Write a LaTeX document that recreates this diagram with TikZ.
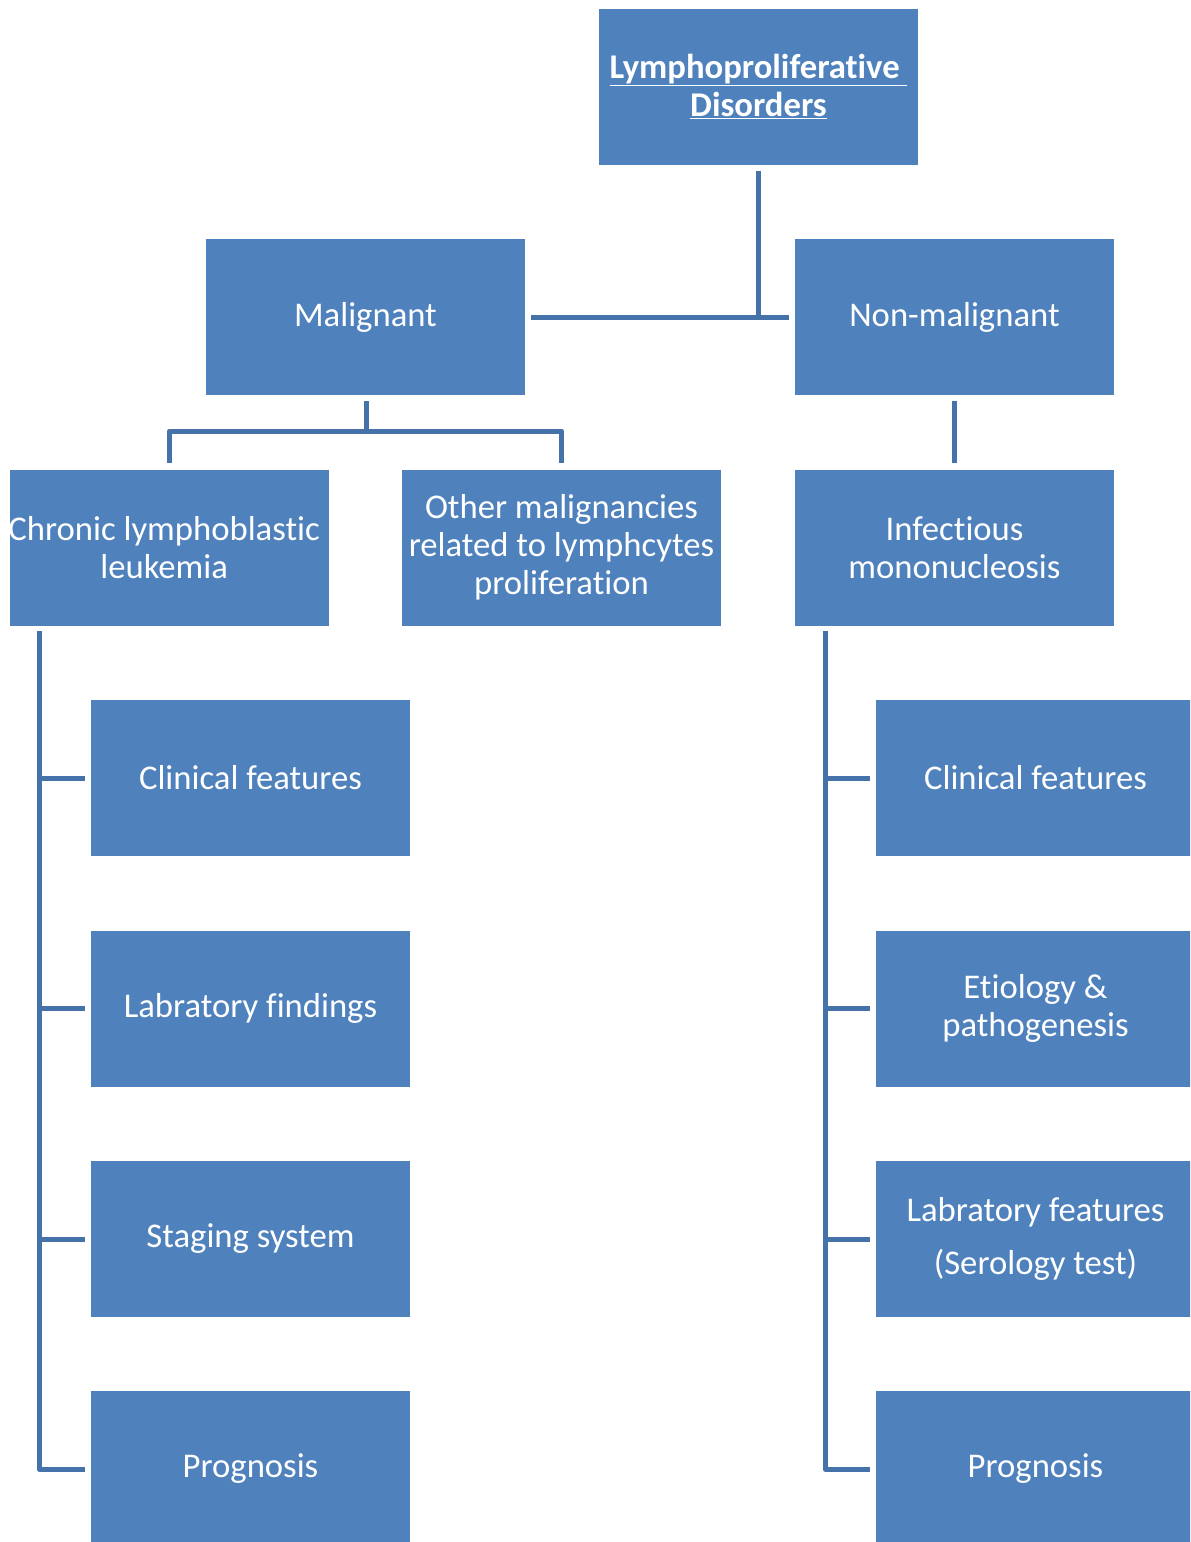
\documentclass[tikz,border=0pt]{standalone}
\usepackage{fontspec}
\setmainfont[Ligatures=NoCommon]{Carlito}
\definecolor{boxblue}{HTML}{4F81BD}
\definecolor{lineblue}{HTML}{4672AA}
\begin{document}
\begin{tikzpicture}[x=0.75pt,y=-0.75pt,
  bx/.style={fill=boxblue,draw=none,minimum width=239.25pt,minimum height=117pt,
    text=white,align=center,inner sep=0pt,font=\fontsize{26}{28.5}\selectfont},
  conn/.style={draw=lineblue,line width=3.75pt}]
\useasboundingbox (0,0) rectangle (1190,1542);
\clip (0,0) rectangle (1190,1542);
\node[bx] (root) at (758.5,86.5) {\textbf{\underline{Lymphoproliferative }}\\\textbf{\underline{Disorders}}};
\node[bx] (mal) at (365.5,317) {Malignant};
\node[bx] (non) at (954.5,317) {Non-malignant};
\node[bx] (cll) at (169.5,547.5) {\hspace*{-8pt}Chronic lymphoblastic\\\hspace*{-8pt}leukemia};
\node[bx] (oth) at (561.5,547.5) {Other malignancies\\related to lymphcytes\\proliferation};
\node[bx] (inf) at (954.5,547.5) {Infectious\\mononucleosis};
\node[bx] (l1) at (250.5,778) {Clinical features};
\node[bx] (l2) at (250.5,1008.5) {Labratory findings};
\node[bx] (l3) at (250.5,1239) {Staging system};
\node[bx] (l4) at (250.5,1469) {Prognosis};
\node[bx] (r1) at (1035.5,778) {Clinical features};
\node[bx] (r2) at (1035.5,1008.5) {Etiology \&\\pathogenesis};
\node[bx,font=\fontsize{26}{39.75}\selectfont] (r3) at (1035.5,1239) {Labratory features\\(Serology test)};
\node[bx] (r4) at (1035.5,1469) {Prognosis};
% connectors
\coordinate (j0) at (758,317);
\draw[conn] (root.south -| j0) ++(0,6) -- (j0);
\draw[conn] ([xshift=4.5pt]mal.east) -- ([xshift=-4.5pt]non.west);
\coordinate (jm) at (366,431);
\draw[conn] ([yshift=-4.5pt]mal.south -| jm) -- (jm);
\draw[conn,line join=round] ([yshift=4.5pt]cll.north) -- (cll.north |- jm) -- (oth.north |- jm) -- ([yshift=4.5pt]oth.north);
\draw[conn] ([yshift=-4.5pt]non.south) -- ([yshift=4.5pt]inf.north);
\coordinate (ls) at (39,631);
\draw[conn,line join=round] (ls) -- (ls |- l4.west) -- ([xshift=-4.5pt]l4.west);
\foreach \n in {l1,l2,l3}{\draw[conn] (ls |- \n.west) -- ([xshift=-4.5pt]\n.west);}
\coordinate (rs) at (825,631);
\draw[conn,line join=round] (rs) -- (rs |- r4.west) -- ([xshift=-4.5pt]r4.west);
\foreach \n in {r1,r2,r3}{\draw[conn] (rs |- \n.west) -- ([xshift=-4.5pt]\n.west);}
\end{tikzpicture}
\end{document}
